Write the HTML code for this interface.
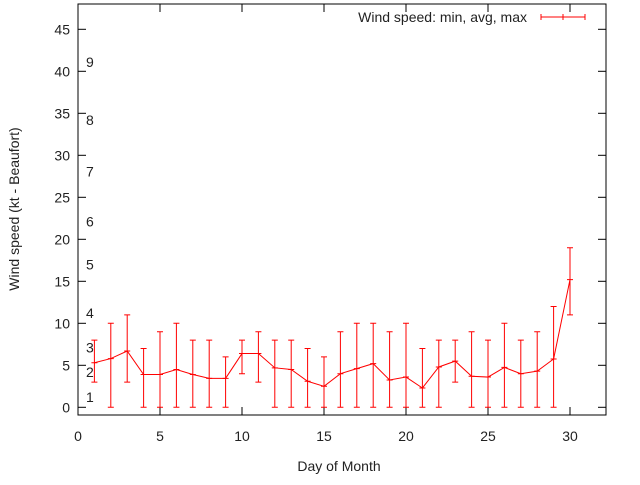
<!DOCTYPE html>
<html><head><meta charset="utf-8"><style>
body{margin:0;background:#fff;}
svg text{font-family:"Liberation Sans",sans-serif;font-size:14px;fill:#222;}
</style></head><body>
<svg id="chart" width="640" height="480" xmlns="http://www.w3.org/2000/svg">
<g id="g"></g>
</svg>
<script>
const days=[1,2,3,4,5,6,7,8,9,10,11,12,13,14,15,16,17,18,19,20,21,22,23,24,25,26,27,28,29,30];
const minVals=[3,0,3,0,0,0,0,0,0,4,3,0,0,0,0,0,0,0,0,0,0,0,3,0,0,0,0,0,0,11];
const avgVals=[5.3,5.8,6.7,3.9,3.9,4.5,3.9,3.45,3.45,6.4,6.4,4.7,4.5,3.1,2.5,4.0,4.6,5.2,3.25,3.6,2.3,4.8,5.5,3.7,3.6,4.75,4.0,4.3,5.75,15.2];
const maxVals=[8,10,11,7,9,10,8,8,6,8,9,8,8,7,6,9,10,10,9,10,7,8,8,9,8,10,8,9,12,19];
const xTicks=[0,5,10,15,20,25,30];
const yTicks=[0,5,10,15,20,25,30,35,40,45];
const bftLabels=["1","2","3","4","5","6","7","8","9"];
const bftVals=[1.2,4.2,7.1,11.2,17,22.1,28.1,34.2,41.1];
const L=78,R=606,T=4,B=415;
const X=v=>78+v*16.4;
const Y=v=>407.3-v*8.4;
const g=document.getElementById('g');
const NS="http://www.w3.org/2000/svg";
function mk(tag,attrs,txt){const e=document.createElementNS(NS,tag);for(const k in attrs)e.setAttribute(k,attrs[k]);if(txt!==undefined)e.textContent=txt;g.appendChild(e);return e;}
// frame
let f=mk('rect',{x:L,y:T,width:R-L,height:B-T,fill:'none',stroke:'#000','stroke-width':1});


yTicks.forEach(v=>{
 let y=Y(v);
 let t=mk('line',{x1:L,x2:L+8,y1:y,y2:y,stroke:'#000'});
 
 
 let t2=mk('line',{x1:R-8,x2:R,y1:y,y2:y,stroke:'#000'});
 
 
 let l=mk('text',{x:L-8,y:y+5,'text-anchor':'end'},String(v));
 
 
});
xTicks.forEach(v=>{
 let x=X(v);
 let t=mk('line',{x1:x,x2:x,y1:B,y2:B-8,stroke:'#000'});
 
 
 let t2=mk('line',{x1:x,x2:x,y1:T,y2:T+8,stroke:'#000'});
 
 
 let l=mk('text',{x:x,y:B+26,'text-anchor':'middle'},String(v));
 
 
});
bftLabels.forEach((s,i)=>{
 let l=mk('text',{x:86,y:Y(bftVals[i])+5},s);
 
 
});
let xt=mk('text',{x:339,y:471,'text-anchor':'middle'},'Day of Month');


let yt=mk('text',{x:0,y:0,'text-anchor':'middle',transform:'translate(19,209) rotate(-90)'},'Wind speed (kt - Beaufort)');


// line
let pts=days.map((d,i)=>X(d)+','+Y(avgVals[i])).join(' ');
let pl=mk('polyline',{points:pts,fill:'none',stroke:'#f00','stroke-width':1});


days.forEach((d,i)=>{
 let x=X(d);
 let e=mk('path',{d:`M${x},${Y(minVals[i])}V${Y(maxVals[i])}M${x-3},${Y(minVals[i])}h6M${x-3},${Y(maxVals[i])}h6M${x-3},${Y(avgVals[i])}h6`,stroke:'#f00','stroke-width':1,fill:'none'});
 
 
});
// legend
let lt=mk('text',{x:527,y:22,'text-anchor':'end'},'Wind speed: min, avg, max');


let ls=mk('path',{d:'M541,17H585M541,14v6M585,14v6M563,14v6',stroke:'#f00','stroke-width':1,fill:'none'});


</script>
</body></html>
